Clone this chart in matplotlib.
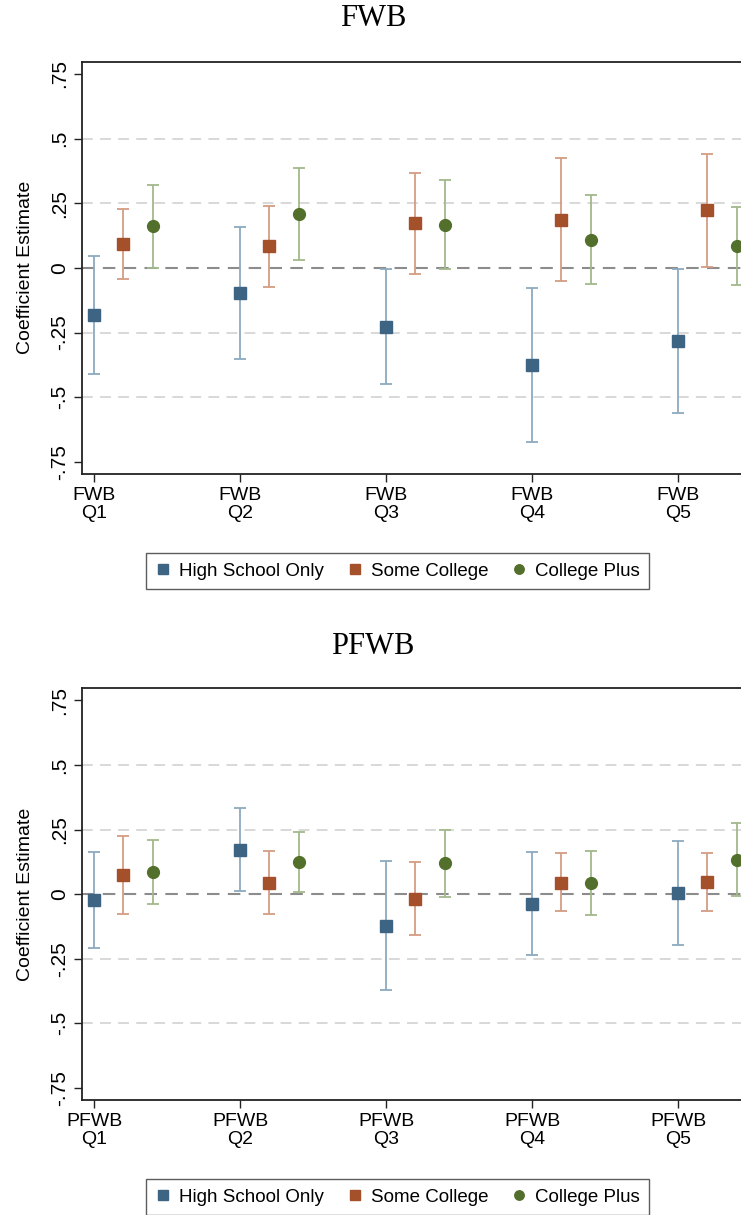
import matplotlib.pyplot as plt
import numpy as np

# quintile labels
fwb_labels = ['FWB\nQ1', 'FWB\nQ2', 'FWB\nQ3', 'FWB\nQ4', 'FWB\nQ5']
pfwb_labels = ['PFWB\nQ1', 'PFWB\nQ2', 'PFWB\nQ3', 'PFWB\nQ4', 'PFWB\nQ5']
groups = ['High School Only', 'Some College', 'College Plus']

# FWB panel: estimates and CI bounds
fwb_hs = [-0.183, -0.098, -0.228, -0.376, -0.283]
fwb_hs_lo = [-0.410, -0.351, -0.450, -0.674, -0.560]
fwb_hs_hi = [0.045, 0.156, -0.004, -0.077, -0.006]
fwb_sc = [0.092, 0.084, 0.173, 0.184, 0.223]
fwb_sc_lo = [-0.045, -0.073, -0.022, -0.049, 0.005]
fwb_sc_hi = [0.227, 0.241, 0.368, 0.423, 0.439]
fwb_cp = [0.160, 0.207, 0.166, 0.108, 0.084]
fwb_cp_lo = [0.001, 0.032, -0.006, -0.064, -0.067]
fwb_cp_hi = [0.320, 0.385, 0.340, 0.282, 0.237]

# PFWB panel
pfwb_hs = [-0.022, 0.172, -0.122, -0.037, 0.005]
pfwb_hs_lo = [-0.207, 0.013, -0.373, -0.236, -0.197]
pfwb_hs_hi = [0.163, 0.334, 0.130, 0.164, 0.205]
pfwb_sc = [0.075, 0.045, -0.018, 0.044, 0.048]
pfwb_sc_lo = [-0.075, -0.077, -0.160, -0.066, -0.064]
pfwb_sc_hi = [0.227, 0.169, 0.123, 0.159, 0.161]
pfwb_cp = [0.087, 0.124, 0.120, 0.043, 0.133]
pfwb_cp_lo = [-0.039, 0.008, -0.010, -0.082, -0.009]
pfwb_cp_hi = [0.211, 0.240, 0.249, 0.166, 0.275]

yticks = [-0.75, -0.5, -0.25, 0, 0.25, 0.5, 0.75]
ytick_labels = ['-.75', '-.5', '-.25', '0', '.25', '.5', '.75']

colors = ['#3d6483', '#a4502a', '#52702c']
bar_colors = ['#8eaabf', '#d49c84', '#a3b98c']
markers = ['s', 's', 'o']
offsets = [0.0, 0.2, 0.4]

plt.rcParams['font.family'] = 'Liberation Sans'

fig = plt.figure(figsize=(7.41, 12.15), dpi=100)
W, H = 741, 1215


def panel(ax_rect, title, title_y, labels, series, legend_y):
    ax = fig.add_axes(ax_rect)
    x = np.arange(len(labels))
    for gridy in [-0.5, -0.25, 0.25, 0.5]:
        ax.axhline(gridy, color='#d6d6d6', lw=1.3, dashes=(6, 4), zorder=0)
    ax.axhline(0, color='#8c8c8c', lw=1.5, dashes=(6, 4), zorder=1)
    handles = []
    for k, (est, lo, hi) in enumerate(series):
        est = np.array(est)
        err = [est - np.array(lo), np.array(hi) - est]
        xs = x + offsets[k]
        ax.errorbar(xs, est, yerr=err, fmt='none', ecolor=bar_colors[k],
                    elinewidth=1.3, capsize=4, capthick=1.3, zorder=2)
        h, = ax.plot(xs, est, linestyle='none', marker=markers[k],
                     color=colors[k], markersize=8.5,
                     label=groups[k], zorder=3)
        handles.append(h)
    ax.set_ylim(-0.797, 0.797)
    ax.set_xlim(-0.086, (W - 94.3) / 146.0)
    ax.set_yticks(yticks)
    ax.set_yticklabels(ytick_labels, rotation=90, va='center', fontsize=15)
    ax.set_xticks(x)
    ax.set_xticklabels(labels, fontsize=14, linespacing=1.15)
    ax.tick_params(axis='both', length=6, width=1, color='#222222')
    ax.tick_params(axis='y', pad=3)
    ax.tick_params(axis='x', pad=3)
    for s in ['left', 'bottom', 'top']:
        ax.spines[s].set_linewidth(1.3)
        ax.spines[s].set_color('#222222')
    ax.spines['right'].set_visible(False)
    ax.set_ylabel('Coefficient Estimate', fontsize=14, labelpad=12)
    fig.text(373 / W, 1 - title_y / H, title, ha='center', va='center',
             fontsize=22, family='Liberation Serif')
    leg = fig.legend(handles=handles, loc='center', ncol=3,
                     bbox_to_anchor=(397.5 / W, 1 - legend_y / H),
                     fontsize=13.5, frameon=True, fancybox=False,
                     edgecolor='#333333', markerscale=0.8, handlelength=0.8,
                     handletextpad=0.45, columnspacing=1.25, borderpad=0.5,
                     borderaxespad=0)
    leg.get_frame().set_linewidth(1.0)
    return ax


panel([81.7 / W, 1 - 474 / H, 1 - 81.7 / W, (474 - 61.7) / H], 'FWB', 19,
      fwb_labels,
      [(fwb_hs, fwb_hs_lo, fwb_hs_hi), (fwb_sc, fwb_sc_lo, fwb_sc_hi),
       (fwb_cp, fwb_cp_lo, fwb_cp_hi)], 571)

panel([81.7 / W, 1 - 1100 / H, 1 - 81.7 / W, (1100 - 688.3) / H], 'PFWB', 646,
      pfwb_labels,
      [(pfwb_hs, pfwb_hs_lo, pfwb_hs_hi), (pfwb_sc, pfwb_sc_lo, pfwb_sc_hi),
       (pfwb_cp, pfwb_cp_lo, pfwb_cp_hi)], 1197)

fig.savefig('out.png', dpi=100)
